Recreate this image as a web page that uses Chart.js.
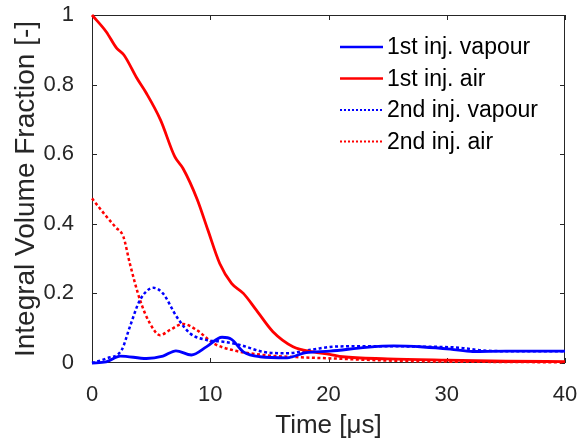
<!DOCTYPE html>
<html>
<head>
<meta charset="utf-8">
<script src="https://cdn.jsdelivr.net/npm/chart.js@4/dist/chart.umd.min.js"></script>
<style>
  body { margin: 0; background: #fff; }
  #wrap { width: 579px; height: 446px; }
</style>
</head>
<body>
<div id="wrap"><canvas id="myChart" width="579" height="446"></canvas></div>
<script>
// values (time in microseconds)
const airTime1 = [0, 1.2, 2.1, 2.7, 3.8, 4.6, 5.8, 7.0, 7.7, 8.9, 9.8, 10.8, 11.8, 12.8, 13.9, 15.3, 17.0, 18.7, 20.1, 21.2, 25, 30, 35, 40];
const airValue1 = [1.0, 0.952, 0.904, 0.885, 0.818, 0.775, 0.698, 0.593, 0.559, 0.47, 0.382, 0.286, 0.229, 0.2, 0.152, 0.09, 0.047, 0.032, 0.025, 0.018, 0.012, 0.008, 0.005, 0.004];

const vapTime1 = [0, 1.2, 2.4, 4.6, 6.0, 7.1, 8.4, 9.7, 11.0, 11.8, 12.8, 14.2, 16.5, 18.1, 20.1, 23.2, 25.5, 28, 30.3, 32.2, 35, 40];
const vapValue1 = [0, 0.003, 0.02, 0.013, 0.02, 0.035, 0.023, 0.047, 0.074, 0.068, 0.032, 0.018, 0.015, 0.03, 0.034, 0.045, 0.049, 0.046, 0.04, 0.033, 0.034, 0.034];

const airTime2 = [0, 1, 2, 2.65, 3.2, 4.06, 4.9, 5.75, 6.6, 7.7, 8.85, 10.25, 11.9, 14.5, 17.3, 20.4, 25, 30, 35, 40];
const airValue2 = [0.473, 0.43, 0.39, 0.363, 0.286, 0.181, 0.114, 0.08, 0.095, 0.112, 0.095, 0.057, 0.037, 0.023, 0.017, 0.013, 0.007, 0.004, 0.003, 0.002];

const vapTime2 = [0, 1.2, 2.5, 3.2, 4.06, 5.2, 6.0, 7.16, 8.3, 9.7, 11.1, 12.5, 14.5, 16.5, 18.7, 20.4, 22, 25, 28, 31, 33, 35, 40];
const vapValue2 = [0, 0.013, 0.037, 0.104, 0.181, 0.216, 0.2, 0.133, 0.085, 0.066, 0.061, 0.052, 0.032, 0.028, 0.039, 0.047, 0.048, 0.048, 0.047, 0.044, 0.036, 0.034, 0.034];

const xTicks = [0, 10, 20, 30, 40];
const yTicks = [0, 0.2, 0.4, 0.6, 0.8, 1];

function toPoints(times, values) {
  return times.map((t, i) => ({ x: t, y: values[i] }));
}

const axisColor = "#262626";
Chart.defaults.font.family = "'Liberation Sans', Arial, sans-serif";
Chart.defaults.color = axisColor;

// box round the plot with the little inward ticks, like matlab
const framePlugin = {
  id: "frame",
  beforeDatasetsDraw(chart) {
    const { ctx, chartArea: a, scales } = chart;
    ctx.save();
    ctx.strokeStyle = axisColor;
    ctx.lineWidth = 1;
    ctx.strokeRect(a.left + 0.5, a.top + 0.5, a.right - a.left - 1, a.bottom - a.top - 1);
    ctx.beginPath();
    xTicks.forEach((v) => {
      const px = Math.round(scales.x.getPixelForValue(v)) + 0.5;
      ctx.moveTo(px, a.bottom);
      ctx.lineTo(px, a.bottom - 5);
      ctx.moveTo(px, a.top);
      ctx.lineTo(px, a.top + 5);
    });
    yTicks.forEach((v) => {
      const py = Math.round(scales.y.getPixelForValue(v)) + 0.5;
      ctx.moveTo(a.left, py);
      ctx.lineTo(a.left + 5, py);
      ctx.moveTo(a.right, py);
      ctx.lineTo(a.right - 5, py);
    });
    ctx.stroke();
    ctx.restore();
  },
};

// legend sits inside the axes, top right, without a box
const legendPlugin = {
  id: "insideLegend",
  afterDraw(chart) {
    const { ctx, chartArea: a } = chart;
    const x0 = a.left + 248;
    const y0 = a.top + 32;
    const rowGap = 31.5;
    ctx.save();
    ctx.font = "23px 'Liberation Sans', Arial, sans-serif";
    ctx.textBaseline = "middle";
    ctx.fillStyle = "#000";
    chart.data.datasets.forEach((ds, i) => {
      const y = y0 + i * rowGap;
      ctx.beginPath();
      ctx.strokeStyle = ds.borderColor;
      ctx.lineWidth = ds.borderDash ? 2 : 2.5;
      ctx.setLineDash(ds.borderDash ? [2, 2] : []);
      ctx.moveTo(x0, y);
      ctx.lineTo(x0 + 43, y);
      ctx.stroke();
      ctx.fillText(ds.label, x0 + 47, y + 1);
    });
    ctx.restore();
  },
};

// fixed axis sizes, and no extra room for the end labels
function fixSize(prop, size) {
  return (scale) => {
    scale[prop] = size;
    scale.paddingTop = 0;
    scale.paddingBottom = 0;
    scale.paddingLeft = 0;
    scale.paddingRight = 0;
  };
}

const datasets = [
  { label: "1st inj. vapour", data: toPoints(vapTime1, vapValue1), borderColor: "#0000ff" },
  { label: "1st inj. air", data: toPoints(airTime1, airValue1), borderColor: "#ff0000" },
  { label: "2nd inj. vapour", data: toPoints(vapTime2, vapValue2), borderColor: "#0000ff", borderDash: [3, 2.5] },
  { label: "2nd inj. air", data: toPoints(airTime2, airValue2), borderColor: "#ff0000", borderDash: [3, 2.5] },
].map((ds) => ({
  ...ds,
  borderWidth: ds.borderDash ? 2.5 : 2.8,
  pointRadius: 0,
  fill: false,
  cubicInterpolationMode: "monotone",
  clip: 5,
}));

const ctx = document.getElementById("myChart").getContext("2d");
const myChart = new Chart(ctx, {
  type: "line",
  data: { datasets: datasets },
  options: {
    responsive: false,
    animation: false,
    layout: { padding: { top: 15, right: 14, left: 0, bottom: 0 } },
    plugins: { legend: { display: false }, tooltip: { enabled: false } },
    scales: {
      x: {
        type: "linear",
        min: 0,
        max: 40,
        afterFit: fixSize("height", 83),
        afterBuildTicks: (scale) => { scale.ticks = xTicks.map((v) => ({ value: v })); },
        grid: { display: false },
        border: { display: false },
        ticks: { font: { size: 22 }, padding: 11, maxRotation: 0, callback: (v) => String(v) },
        title: { display: true, text: "Time [μs]", font: { size: 26 }, padding: { bottom: 5, top: 0 } },
      },
      y: {
        min: 0,
        max: 1,
        afterFit: fixSize("width", 92),
        afterBuildTicks: (scale) => { scale.ticks = yTicks.map((v) => ({ value: v })); },
        grid: { display: false },
        border: { display: false },
        ticks: { font: { size: 22 }, padding: 10, callback: (v) => String(v) },
        title: { display: true, text: "Integral Volume Fraction [-]", font: { size: 28 }, padding: { top: 9, bottom: 0 } },
      },
    },
  },
  plugins: [framePlugin, legendPlugin],
});
</script>
</body>
</html>
